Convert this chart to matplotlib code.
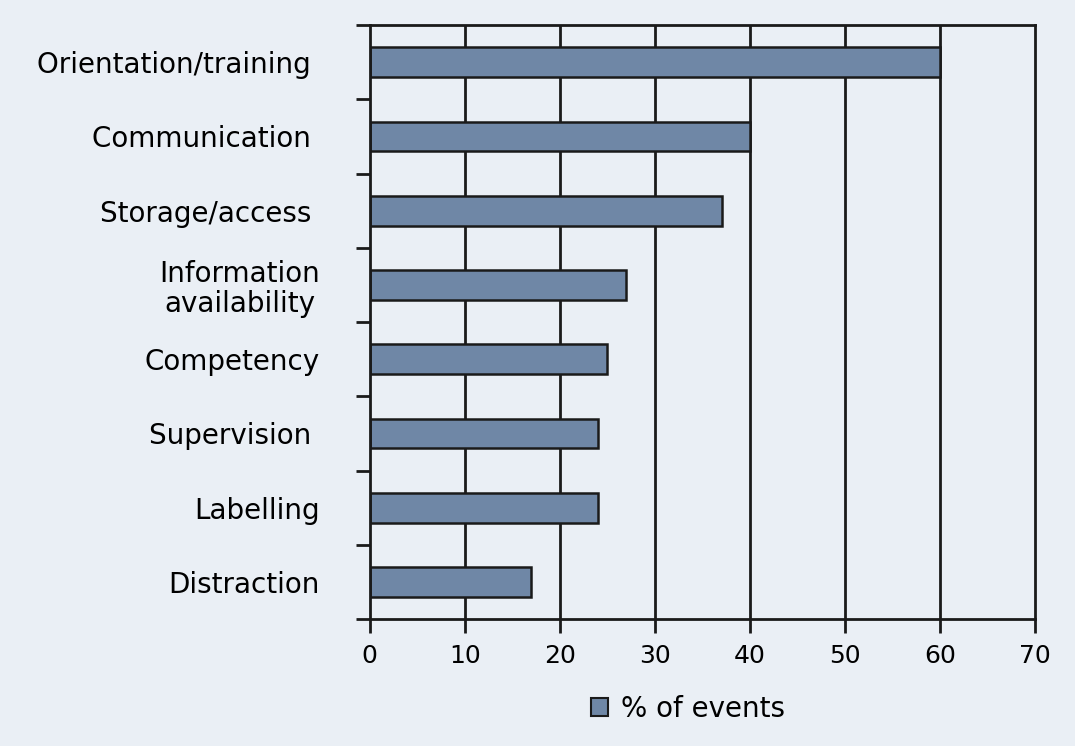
import matplotlib.pyplot as plt
from matplotlib.patches import Patch

# categories top se bottom tak
categories = ["Orientation/training ", "Communication ", "Storage/access ",
              "Information\navailability", "Competency", "Supervision ",
              "Labelling", "Distraction"]
values = [60, 40, 37, 27, 25, 24, 24, 17]
xticks = [0, 10, 20, 30, 40, 50, 60, 70]

bg = '#eaeff5'
bar_color = '#6f87a6'

plt.rcParams['font.family'] = ['DejaVu Sans']

fig = plt.figure(figsize=(10.75, 7.46), dpi=100, facecolor=bg)
ax = fig.add_axes([0.344, 0.170, 0.619, 0.7965])
ax.set_facecolor(bg)

n = len(categories)
ypos = [n - 1 - i for i in range(n)]

# grid lines pehle, bars upar
for x in xticks[1:-1]:
    ax.axvline(x, color='#1a1a1a', lw=2, zorder=1)

ax.barh(ypos, values, height=0.4, color=bar_color, edgecolor='#1a1a1a',
        linewidth=1.8, zorder=2)

ax.set_xlim(0, 70)
ax.set_ylim(-0.5, n - 0.5)
ax.set_xticks(xticks)
ax.set_xticklabels([str(x) for x in xticks])

# ticks category ke beech mein
ax.set_yticks([i - 0.5 for i in range(n + 1)])
ax.set_yticklabels([])
ax.set_yticks(ypos, minor=True)
ax.set_yticklabels(categories, minor=True, multialignment='center',
                   linespacing=1.1)
ax.tick_params(axis='y', which='minor', length=0, pad=36, labelsize=20)
ax.tick_params(axis='y', which='major', length=10, width=2, color='#1a1a1a')
ax.tick_params(axis='x', length=10, width=2, color='#1a1a1a', pad=8, labelsize=18)

for s in ['left', 'bottom', 'top', 'right']:
    ax.spines[s].set_linewidth(2)
    ax.spines[s].set_color('#1a1a1a')

handle = Patch(facecolor=bar_color, edgecolor='#1a1a1a', linewidth=1.5)
fig.legend([handle], ['% of events'], loc='center', bbox_to_anchor=(0.64, 0.05),
           frameon=False, fontsize=20, handlelength=0.6, handleheight=0.6,
           handletextpad=0.45)

plt.savefig('out.png', dpi=100, facecolor=bg)
plt.close()
